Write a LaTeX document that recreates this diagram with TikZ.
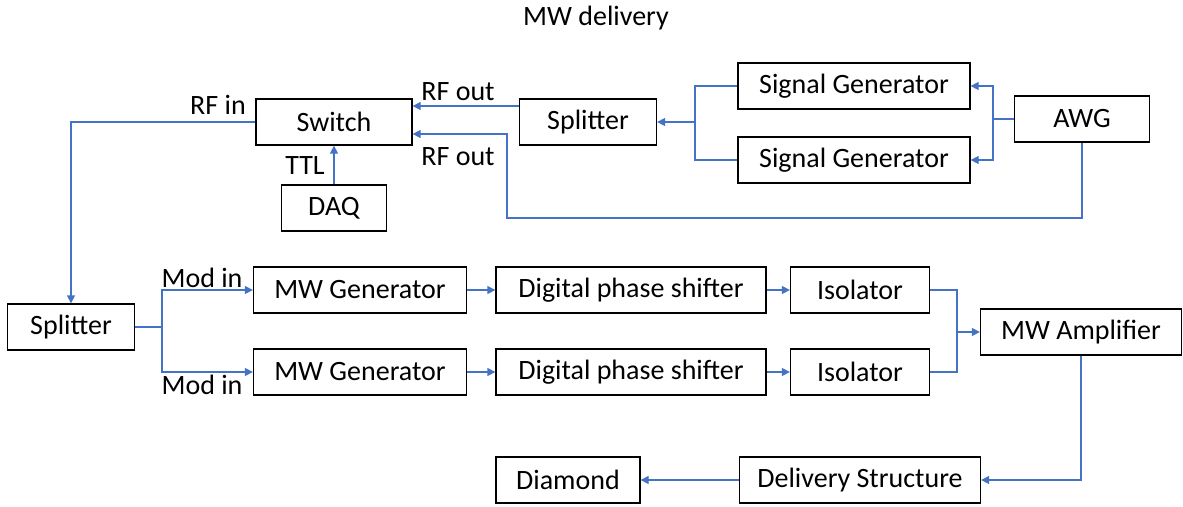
\documentclass[tikz,border=0pt]{standalone}
\usepackage{fontspec}
\setmainfont{Carlito}
\usetikzlibrary{arrows.meta}
\definecolor{wireblue}{RGB}{68,114,196}
\tikzset{
  box/.style={draw=black, line width=1.3pt, minimum height=46pt, inner sep=0pt, font=\fontsize{28}{30}\selectfont},
  lbl/.style={inner sep=0pt, font=\fontsize{28}{30}\selectfont},
  wire/.style={draw=wireblue, line width=1.3pt},
  feed/.style={wire, -{Triangle[length=8pt,width=8pt]}}
}
\begin{document}
\begin{tikzpicture}[x=1pt,y=-1pt]
\useasboundingbox (0,0) rectangle (1183,506);

\node[lbl] (title) at (596,18) {MW delivery};

% top row
\node[box, minimum width=156pt] (switch) at (334,122) {Switch};
\node[box, minimum width=105pt] (daq) at (334,208) {DAQ};
\node[box, minimum width=137pt] (splitT) at (588,122) {Splitter};
\node[box, minimum width=232pt] (sigA) at (854,86) {Signal Generator};
\node[box, minimum width=232pt] (sigB) at (854,160) {Signal Generator};
\node[box, minimum width=135pt] (awg) at (1082,119) {AWG};

% middle rows
\node[box, minimum width=127pt] (splitL) at (71,327) {Splitter};
\node[box, minimum width=213pt] (mwA) at (360,290) {MW Generator};
\node[box, minimum width=213pt] (mwB) at (360,372) {MW Generator};
\node[box, minimum width=270pt] (dpsA) at (631,290) {Digital phase shifter};
\node[box, minimum width=270pt] (dpsB) at (631,372) {Digital phase shifter};
\node[box, minimum width=139pt] (isoA) at (860,290) {Isolator};
\node[box, minimum width=139pt] (isoB) at (860,372) {Isolator};
\node[box, minimum width=201pt] (amp) at (1081,332) {MW Amplifier};

% bottom row
\node[box, minimum width=241pt] (deliv) at (860,480) {Delivery Structure};
\node[box, minimum width=144pt] (diamond) at (568,480) {Diamond};

% labels
\node[lbl] (rfin) at (218,105) {RF in};
\node[lbl] (rfoutA) at (458,92) {RF out};
\node[lbl] (rfoutB) at (458,157) {RF out};
\node[lbl] (ttl) at (305,166) {TTL};
\node[lbl] (modA) at (202,278) {Mod in};
\node[lbl] (modB) at (202,385) {Mod in};

% junctions
\coordinate (awgfork) at (993,119);
\coordinate (sigfork) at (695,122);
\coordinate (loopL) at (507,218);
\coordinate (modfork) at (162,327);
\coordinate (isofork) at (957,332);

% AWG to signal generators
\draw[wire] (awg.west) -- (awgfork);
\draw[feed] (awgfork) |- (sigA.east);
\draw[feed] (awgfork) |- (sigB.east);

% signal generators to splitter
\draw[wire] (sigA.west) -| (sigfork);
\draw[wire] (sigB.west) -| (sigfork);
\draw[feed] (sigfork) -- (splitT.east);

% into the switch
\draw[feed] ([yshift=16pt]splitT.west) -- ([yshift=16pt]switch.east);
\draw[feed] (awg.south) |- (loopL) |- ([yshift=-12pt]switch.east);
\draw[feed] (daq) -- (switch);
\draw[feed] (switch.west) -| (splitL.north);

% splitter to MW generators
\draw[wire] (splitL.east) -- (modfork);
\draw[feed] (modfork) |- (mwA.west);
\draw[feed] (modfork) |- (mwB.west);

\draw[feed] (mwA) -- (dpsA);
\draw[feed] (mwB) -- (dpsB);
\draw[feed] (dpsA) -- (isoA);
\draw[feed] (dpsB) -- (isoB);

% isolators to amplifier
\draw[wire] (isoA.east) -| (isofork);
\draw[wire] (isoB.east) -| (isofork);
\draw[feed] (isofork) -- (amp.west);

\draw[feed] (amp.south) |- (deliv.east);
\draw[feed] (deliv) -- (diamond);

\end{tikzpicture}
\end{document}
